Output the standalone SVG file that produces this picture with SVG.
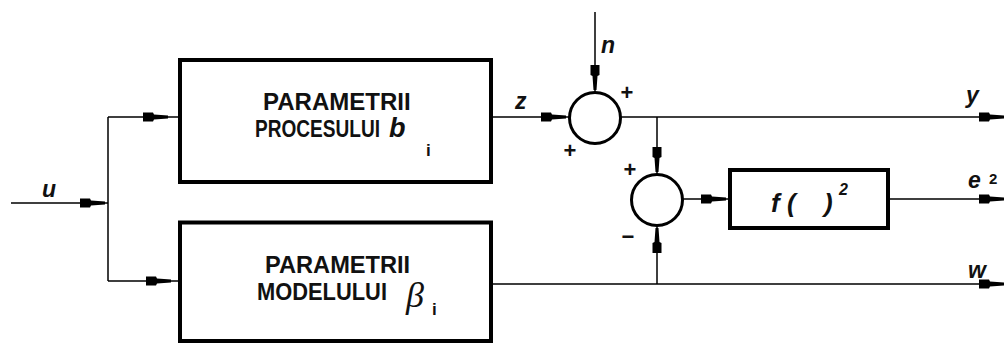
<svg xmlns="http://www.w3.org/2000/svg" xmlns:xlink="http://www.w3.org/1999/xlink" width="1006" height="347" viewBox="0 0 1006 347">
<style>
.ln{fill:none;stroke:#000;stroke-width:1.5}
.box{fill:#fff;stroke:#000;stroke-width:4}
.sum{fill:#fff;stroke:#000;stroke-width:3}
.bt{font-family:"Liberation Sans",Arial,sans-serif;font-weight:bold;font-size:24px;fill:#111}
.lb{font-family:"Liberation Sans",Arial,sans-serif;font-weight:bold;font-style:italic;font-size:23px;fill:#111}
.sg{font-family:"Liberation Sans",Arial,sans-serif;font-weight:bold;font-size:22px;fill:#111}
.sub{font-family:"Liberation Sans",Arial,sans-serif;font-weight:bold;font-size:17px;fill:#111}
.gr{font-family:"Liberation Serif","Times New Roman",serif;font-style:italic;font-size:36px;fill:#111}
</style>
<defs>
<path id="ah" d="M-25,-4.5 H-15 L-14,-2.5 L0,-1.5 V1.5 L-14,2.5 L-15,4.5 H-25 Z" fill="#000"/>
</defs>
<g id="connectors">
<path class="ln" d="M11,203 H108 M108,117 V281 M108,117 H180 M108,281 H180 M491,117 H569 M595,12 V92 M621,117 H1004 M657,117 V174 M657,226 V284 M491,284 H1004 M683,199 H730 M888,199 H1004"/>
<use xlink:href="#ah" transform="translate(105,203)"/>
<use xlink:href="#ah" transform="translate(168,117)"/>
<use xlink:href="#ah" transform="translate(171,281)"/>
<use xlink:href="#ah" transform="translate(566,117)"/>
<use xlink:href="#ah" transform="translate(595,90) rotate(90)"/>
<use xlink:href="#ah" transform="translate(657,172) rotate(90)"/>
<use xlink:href="#ah" transform="translate(657,228) rotate(-90)"/>
<use xlink:href="#ah" transform="translate(726,199)"/>
<use xlink:href="#ah" transform="translate(1004,117)"/>
<use xlink:href="#ah" transform="translate(1004,199)"/>
<use xlink:href="#ah" transform="translate(1004,284)"/>
<text class="lb" x="42" y="197">u</text>
<text class="lb" x="515" y="109">z</text>
<text class="lb" x="601" y="53">n</text>
<text class="lb" x="966" y="103">y</text>
<text class="lb" x="968" y="188">e</text>
<text class="sub" x="989" y="184" style="font-size:15px">2</text>
<text class="lb" x="968" y="278">w</text>
</g>
<g id="process">
<rect class="box" x="180" y="60" width="311" height="122"/>
<text class="bt" transform="translate(263,110)">PARAMETRII</text>
<text class="bt" transform="translate(255,137) scale(0.795,1)">PROCESULUI</text>
<text class="lb" x="389" y="137" style="font-size:27px">b</text>
<text class="sub" x="426" y="156">i</text>
</g>
<g id="model">
<rect class="box" x="180" y="222.5" width="311" height="118.5"/>
<text class="bt" transform="translate(265,273) scale(1.027,1)" style="font-size:23px">PARAMETRII</text>
<text class="bt" transform="translate(257,300) scale(0.951,1)" style="font-size:23px">MODELULUI</text>
<text class="gr" x="406" y="307">β</text>
<text class="sub" x="432" y="315">i</text>
</g>
<g id="sum1">
<circle class="sum" cx="595" cy="118" r="25.5"/>
<text class="sg" x="627" y="100" text-anchor="middle">+</text>
<text class="sg" x="570" y="158" text-anchor="middle">+</text>
</g>
<g id="sum2">
<circle class="sum" cx="657" cy="200" r="25.5"/>
<text class="sg" x="630" y="177" text-anchor="middle">+</text>
<text class="sg" x="628" y="244" text-anchor="middle">−</text>
</g>
<g id="square">
<rect class="box" x="730" y="170" width="158" height="58"/>
<text class="lb" x="771" y="212" style="font-size:26px">f (</text>
<text class="lb" x="824" y="212" style="font-size:26px">)</text>
<text class="lb" x="839" y="195" style="font-size:16px">2</text>
</g>
</svg>
